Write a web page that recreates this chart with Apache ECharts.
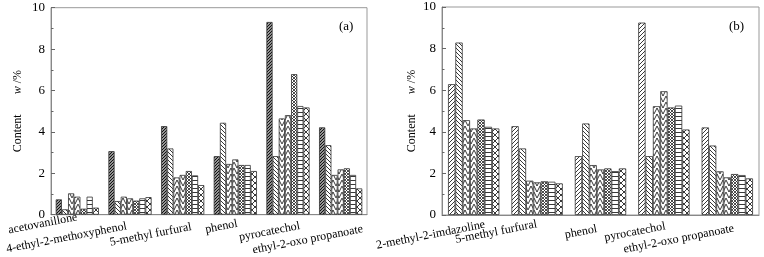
<!DOCTYPE html>
<html><head><meta charset="utf-8">
<script src="https://cdn.jsdelivr.net/npm/echarts@6/dist/echarts.min.js"></script>
<style>html,body{margin:0;padding:0;background:#fff}#c{width:764px;height:257px}</style>
</head><body><div id="c"></div>
<script>
// ---- data ----
const catsA = ['acetovanillone','4-ethyl-2-methoxyphenol','5-methyl furfural','phenol','pyrocatechol','ethyl-2-oxo propanoate'];
const catsB = ['2-methyl-2-imdazoline','5-methyl furfural','phenol','pyrocatechol','ethyl-2-oxo propanoate'];
const yTicks = [0, 2, 4, 6, 8, 10];
const a1 = [0.74, 3.07, 4.28, 2.83, 9.31, 4.22];
const a2 = [0.26, 0.66, 3.20, 4.44, 2.83, 3.36];
const a3 = [1.03, 0.87, 1.80, 2.45, 4.65, 1.92];
const a4 = [0.87, 0.79, 1.92, 2.67, 4.81, 2.19];
const a5 = [0.29, 0.68, 2.11, 2.40, 6.79, 2.24];
const a6 = [0.87, 0.79, 1.90, 2.40, 5.25, 1.92];
const a7 = [0.34, 0.85, 1.43, 2.11, 5.18, 1.27];
const b1 = [6.29, 4.27, 2.83, 9.25, 4.21];
const b2 = [8.29, 3.20, 4.40, 2.83, 3.34];
const b3 = [4.56, 1.65, 2.40, 5.23, 2.10];
const b4 = [4.16, 1.57, 2.19, 5.95, 1.81];
const b5 = [4.59, 1.62, 2.24, 5.17, 1.97];
const b6 = [4.24, 1.60, 2.11, 5.26, 1.92];
const b7 = [4.16, 1.52, 2.24, 4.11, 1.76];

// ---- label layout (offset of label centre from category centre / axis) ----
const offA = [[-34.5, 9], [-63.5, 23], [-32, 20], [-14, 12], [-18.5, 17], [-33, 25]];
const offB = [[-43, 20], [-41, 17], [-19.5, 17], [-29, 17], [-48.5, 24]];
const ROT = 11;

// ---- hatch patterns ----
function tile(w, h, lw, col, draw) {
  const c = document.createElement('canvas');
  c.width = w; c.height = h;
  const g = c.getContext('2d');
  g.fillStyle = '#fff'; g.fillRect(0, 0, w, h);
  g.strokeStyle = col; g.lineWidth = lw;
  g.beginPath(); draw(g, w, h); g.stroke();
  return { image: c, repeat: 'repeat' };
}
function fwd(g, s) { g.moveTo(-1, s + 1); g.lineTo(s + 1, -1); g.moveTo(-1, 1); g.lineTo(1, -1); g.moveTo(s - 1, s + 1); g.lineTo(s + 1, s - 1); }
function bwd(g, s) { g.moveTo(-1, -1); g.lineTo(s + 1, s + 1); g.moveTo(s - 1, -1); g.lineTo(s + 1, 1); g.moveTo(-1, s - 1); g.lineTo(1, s + 1); }
const pat = {
  fwdDark: tile(3, 3, 1.3, '#111', (g) => fwd(g, 3)),
  fwd: tile(4, 4, 0.9, '#222', (g) => fwd(g, 4)),
  bwd: tile(4, 4, 0.9, '#222', (g) => bwd(g, 4)),
  chevUp: tile(6, 6, 0.9, '#222', (g) => { g.moveTo(0, 6); g.lineTo(3, 0); g.lineTo(6, 6); }),
  chevDn: tile(6, 6, 0.9, '#222', (g) => { g.moveTo(0, 0); g.lineTo(3, 6); g.lineTo(6, 0); }),
  cross: tile(3, 3, 0.8, '#222', (g) => { fwd(g, 3); bwd(g, 3); }),
  horiz: tile(4, 4, 0.9, '#222', (g) => { g.moveTo(0, 0.5); g.lineTo(4, 0.5); }),
  xlat: tile(6, 6, 0.9, '#222', (g) => { fwd(g, 6); bwd(g, 6); })
};
const patsA = [pat.fwdDark, pat.bwd, pat.chevUp, pat.chevDn, pat.cross, pat.horiz, pat.xlat];
const patsB = [pat.fwd, pat.bwd, pat.chevUp, pat.chevDn, pat.cross, pat.horiz, pat.xlat];

const SERIF = '"Liberation Serif","Times New Roman",serif';

function xAxisFor(gi, cats) {
  return {
    type: 'category', gridIndex: gi, data: cats,
    axisLine: { lineStyle: { color: '#888', width: 1 } },
    axisTick: { show: false },
    axisLabel: { show: false }
  };
}
function yAxisFor(gi, gap) {
  return {
    type: 'value', gridIndex: gi, min: yTicks[0], max: yTicks[yTicks.length - 1], interval: 2,
    name: '{r|Content}{sp|}{i|w}{r| /%}', nameLocation: 'middle', nameGap: gap,
    nameTextStyle: {
      rich: {
        r: { fontFamily: SERIF, fontSize: 12, color: '#000' },
        i: { fontFamily: SERIF, fontSize: 12, color: '#000', fontStyle: 'italic' },
        sp: { width: 20 }
      }
    },
    axisLine: { show: true, lineStyle: { color: '#888', width: 1 } },
    axisTick: { show: true, inside: true, length: 4, lineStyle: { color: '#666' } },
    minorTick: { show: true, splitNumber: 2, length: 2.5, lineStyle: { color: '#666' } },
    splitLine: { show: false },
    axisLabel: { margin: 6, fontFamily: SERIF, fontSize: 13, color: '#000' }
  };
}
function seriesFor(gi, arrs, pats) {
  return arrs.map((d, k) => ({
    type: 'bar', xAxisIndex: gi, yAxisIndex: gi, data: d,
    barGap: '0%', barCategoryGap: gi === 0 ? '18%' : '19%',
    itemStyle: { color: pats[k], borderColor: '#333', borderWidth: 0.8 },
    animation: false
  }));
}

const chart = echarts.init(document.getElementById('c'), null, { renderer: 'canvas' });
chart.setOption({
  backgroundColor: '#fff',
  animation: false,
  title: [
    { text: '(a)', left: 334, top: 15, textStyle: { fontFamily: SERIF, fontSize: 13, fontWeight: 'normal', color: '#000' } },
    { text: '(b)', left: 724, top: 15, textStyle: { fontFamily: SERIF, fontSize: 13, fontWeight: 'normal', color: '#000' } }
  ],
  grid: [
    { left: 51, right: 397, top: 7.7, bottom: 42.3, show: true, borderColor: '#999', borderWidth: 1 },
    { left: 442, right: 5, top: 7, bottom: 42, show: true, borderColor: '#999', borderWidth: 1 }
  ],
  xAxis: [xAxisFor(0, catsA), xAxisFor(1, catsB)],
  yAxis: [yAxisFor(0, 27), yAxisFor(1, 24)],
  series: seriesFor(0, [a1, a2, a3, a4, a5, a6, a7], patsA)
    .concat(seriesFor(1, [b1, b2, b3, b4, b5, b6, b7], patsB))
});

// category labels placed at the axis's own category positions
const labels = [];
[[catsA, offA, 0], [catsB, offB, 1]].forEach(([cats, offs, gi]) => {
  const y0 = chart.convertToPixel({ yAxisIndex: gi }, 0);
  cats.forEach((c, i) => {
    const x = chart.convertToPixel({ xAxisIndex: gi }, c);
    labels.push({
      type: 'text', x: x + offs[i][0], y: y0 + offs[i][1], rotation: ROT * Math.PI / 180,
      style: { text: c, font: '12px ' + SERIF, fill: '#000', textAlign: 'center', textVerticalAlign: 'middle' }
    });
  });
});
chart.setOption({ graphic: labels });
</script></body></html>
